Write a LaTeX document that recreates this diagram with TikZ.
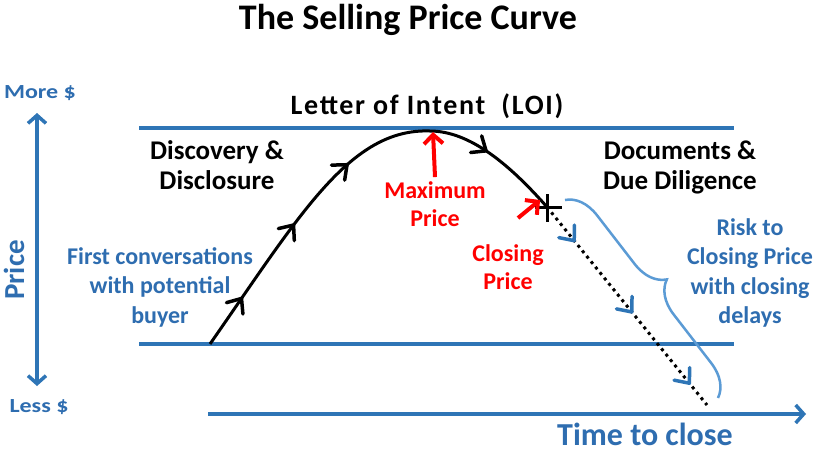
\documentclass[tikz,border=0pt]{standalone}
\usepackage{fontspec}
\setmainfont{Carlito}
\usetikzlibrary{arrows.meta,decorations.markings,decorations.pathreplacing}
\definecolor{axisblue}{HTML}{2E75B6}
\definecolor{textblue}{HTML}{2E6DB0}
\definecolor{bracebl}{HTML}{5B9BD5}
\definecolor{redc}{HTML}{FF0000}
\tikzset{
  axisline/.style={draw=axisblue, line width=3.5pt},
  lbl/.style={inner sep=0pt, align=center, font=\bfseries\fontsize{24}{29.5}\selectfont},
  bluelbl/.style={lbl, text=textblue},
  redlbl/.style={lbl, text=redc, font=\bfseries\fontsize{24}{28.5}\selectfont},
  blacklbl/.style={lbl, font=\bfseries\fontsize{27}{30}\selectfont},
  curveline/.style={draw=black, line width=3pt},
  redarrow/.style={draw=redc, line width=4pt, -{Straight Barb[length=9pt,width=19pt]}},
  curvehead/.style={draw=black, line width=3.5pt, line cap=round, line join=round},
  chevhead/.style={draw=axisblue, line width=3.5pt, line cap=round, line join=round},
}
\newcommand{\chev}[1]{\draw[#1] (-12pt,10pt) -- (0pt,0pt) -- (-12pt,-10pt);}
\begin{document}
\begin{tikzpicture}[x=1pt,y=-1pt]
\useasboundingbox[fill=white] (0,0) rectangle (816,451);

% title
\node[lbl, font=\bfseries\fontsize{36}{40}\selectfont] (title) at (408,20) {The Selling Price Curve};

% price axis
\node[bluelbl, font=\bfseries\fontsize{20}{24}\selectfont, xscale=1.2] (more) at (40,93) {More \$};
\node[bluelbl, font=\bfseries\fontsize{20}{24}\selectfont, xscale=1.2] (less) at (39,407) {Less \$};
\node[bluelbl, font=\bfseries\fontsize{29}{32}\selectfont, rotate=90] (price) at (14,270) {Price};
\coordinate (vtop) at (37,113);
\coordinate (vbot) at (37,386);
\draw[axisline, {Straight Barb[length=8pt,width=18pt]}-{Straight Barb[length=8pt,width=18pt]}] (vtop) -- (vbot);

% horizontal lines
\coordinate (topL) at (139,128); \coordinate (topR) at (734,128);
\coordinate (botL) at (139,344); \coordinate (botR) at (734,344);
\draw[axisline] (topL) -- (topR);
\draw[axisline] (botL) -- (botR);

% time axis
\coordinate (tL) at (208,414); \coordinate (tR) at (806,414);
\draw[axisline, -{Straight Barb[length=8pt,width=18pt]}] (tL) -- (tR);
\node[bluelbl, font=\bfseries\fontsize{32}{36}\selectfont] (time) at (645,434) {Time to close};

% texts
\node[lbl, font=\bfseries\fontsize{28}{32}\selectfont\addfontfeature{LetterSpace=6}] (loi) at (427,106) {Letter of Intent\ \ (LOI)};
\node[blacklbl] (disc) at (217,165) {Discovery \&\\Disclosure};
\node[blacklbl] (docs) at (680,167) {Documents \&\\Due Diligence};
\node[bluelbl] (first) at (160,287) {First conversations\\with potential\\buyer};
\node[redlbl] (maxl) at (435,204) {Maximum\\Price};
\node[redlbl] (closel) at (508,267) {Closing\\Price};
\node[bluelbl] (risk) at (750,273) {Risk to\\Closing Price\\with closing\\delays};

% curve
\coordinate (start) at (210,344);
\coordinate (peak) at (430,131);
\coordinate (close) at (547,207);
\coordinate (end) at (707,405);
\draw[curveline, postaction={decorate, decoration={markings,
   mark=at position 0.12 with {\chev{curvehead}},
   mark=at position 0.315 with {\chev{curvehead}},
   mark=at position 0.49 with {\chev{curvehead}},
   mark=at position 0.82 with {\chev{curvehead}}}}]
  (start) .. controls (300,215) and (350,128) .. (peak)
  .. controls (470,131) and (510,165) .. (close);

% plus marker
\draw[line width=3pt] ([xshift=-12pt]close) -- ([xshift=15pt]close);
\draw[line width=3pt] ([yshift=13pt]close) -- ([yshift=-15pt]close);

% dotted continuation
\draw[line width=3pt, dash pattern=on 3pt off 4pt] (close) -- (end);
\path[postaction={decorate, decoration={markings,
   mark=at position 0.17 with {\chev{chevhead}},
   mark=at position 0.53 with {\chev{chevhead}},
   mark=at position 0.89 with {\chev{chevhead}}}}]
  (close) -- (end);

% red arrows
\coordinate (maxtip) at (433,132);
\draw[redarrow] ([yshift=4pt]maxl.north) -- (maxtip);
\coordinate (cltail) at (518,218);
\coordinate (cltip) at (540,200);
\draw[redarrow] (cltail) -- (cltip);

% brace
\coordinate (bracetop) at (565,200);
\coordinate (bracebot) at (718,398);
\draw[draw=bracebl, line width=2.5pt, decorate, decoration={brace, amplitude=32pt}] (bracetop) -- (bracebot);
\end{tikzpicture}
\end{document}
